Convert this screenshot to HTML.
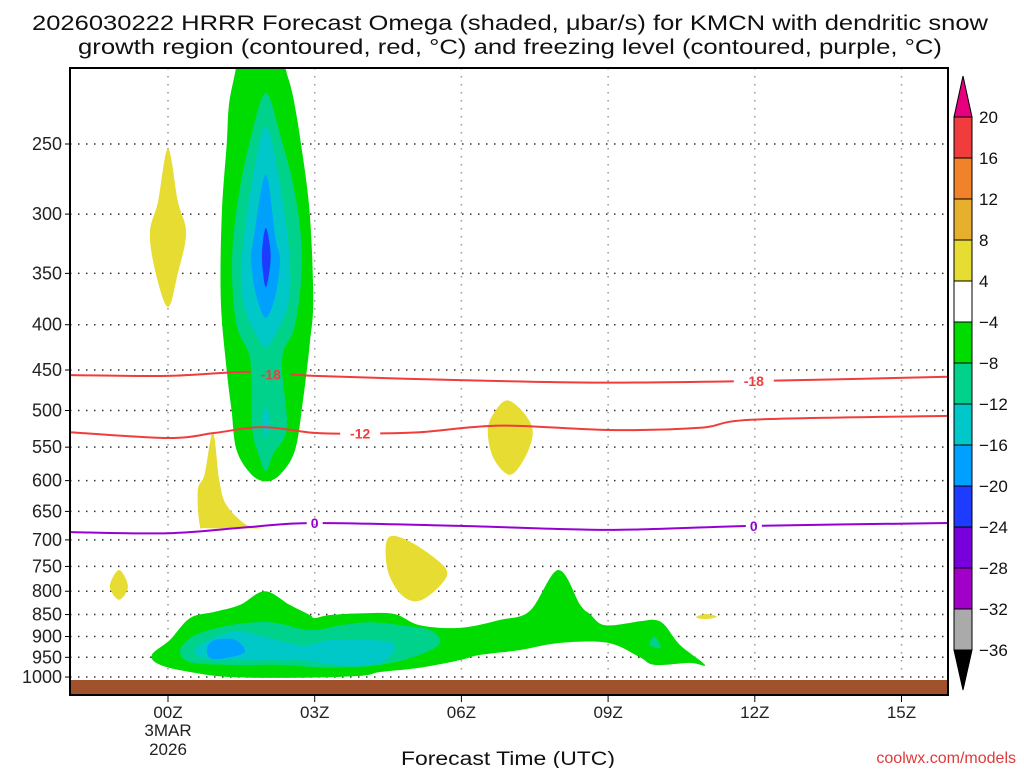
<!DOCTYPE html>
<html><head><meta charset="utf-8"><style>
body{margin:0;background:#fff;width:1024px;height:768px;overflow:hidden;font-family:"Liberation Sans",sans-serif}
svg text{font-family:"Liberation Sans",sans-serif}
</style></head><body>
<svg id="chart" width="1024" height="768" xmlns="http://www.w3.org/2000/svg">
<text x="510" y="30" font-size="21" text-anchor="middle" fill="#111" textLength="956" lengthAdjust="spacingAndGlyphs">2026030222 HRRR Forecast Omega (shaded, μbar/s) for KMCN with dendritic snow</text>
<text x="510" y="54" font-size="21" text-anchor="middle" fill="#111" textLength="864" lengthAdjust="spacingAndGlyphs">growth region (contoured, red, °C) and freezing level (contoured, purple, °C)</text>
<g id="plot"></g>
<text x="508" y="765" font-size="19" text-anchor="middle" fill="#111" textLength="214" lengthAdjust="spacingAndGlyphs">Forecast Time (UTC)</text>
<text x="1016" y="763" font-size="16" text-anchor="end" fill="#e03a3a">coolwx.com/models</text>
<g id="cbar"></g>
</svg>
<script>
const xTickHours=[0,3,6,9,12,15];
const xTickLabels=["00Z","03Z","06Z","09Z","12Z","15Z"];
const yTicks=[250,300,350,400,450,500,550,600,650,700,750,800,850,900,950,1000];
const cbLevels=[20,16,12,8,4,-4,-8,-12,-16,-20,-24,-28,-32,-36];
const cbColors=["#f03c3c","#f0822a","#e6af2d","#e6dc32","#ffffff","#00dc00","#00d28c","#00c8c8","#00a0ff","#1e3cff","#7800dc","#a000c8","#aaaaaa"];
const greenUpper=[[1.45,190],[1.39,205],[1.25,225],[1.2,250],[1.1,300],[1.08,375],[1.2,450],[1.3,500],[1.4,554],[1.7,590],[2.0,601],[2.3,590],[2.6,554],[2.76,487],[2.9,420],[2.97,375],[2.9,300],[2.72,250],[2.55,220],[2.4,205],[2.3,190]];
const tealUpper=[[2.0,219],[1.7,245],[1.45,285],[1.31,338],[1.4,400],[1.68,438],[1.72,522],[1.85,560],[2.0,585],[2.15,560],[2.43,522],[2.33,438],[2.6,400],[2.74,338],[2.6,285],[2.3,245]];
const cyanUpper=[[2.0,239],[1.7,280],[1.51,338],[1.55,380],[1.8,410],[2.0,424],[2.2,410],[2.45,380],[2.49,338],[2.3,280]];
const cyanSmall=[[2.0,495],[2.08,515],[2.0,536],[1.93,515]];
const blueUpper=[[2.0,271],[1.75,320],[1.7,338],[1.8,370],[2.0,393],[2.2,370],[2.29,338],[2.2,320]];
const dblueUpper=[[2.0,311],[1.92,335],[2.0,363],[2.1,335]];
const yellow1=[[0,253],[-0.2,290],[-0.37,315],[-0.25,350],[0,382],[0.2,350],[0.37,315],[0.2,290]];
const yellow2=[[0.92,530],[0.75,590],[0.61,615],[0.65,673],[0.8,679],[1.92,679],[1.6,673],[1.2,640],[1.05,600]];
const yellow3=[[6.95,487],[7.3,505],[7.46,530],[7.3,565],[6.99,591],[6.65,565],[6.54,525],[6.7,500]];
const yellow4=[[4.48,700],[4.8,697],[5.4,730],[5.71,767],[5.2,818],[4.8,810],[4.5,760]];
const yellow5=[[-1.0,757],[-0.82,790],[-1.0,818],[-1.19,790]];
const yellow6=[[11.0,849],[11.23,855],[11.0,860],[10.8,856]];
const greenLower=[[-0.33,944],[0.04,908],[0.45,858],[0.96,844],[1.47,829],[1.98,800],[2.49,829],[2.9,851],[3.0,858],[3.31,851],[4.03,847],[4.64,849],[5.15,874],[5.97,880],[6.79,862],[7.4,842],[7.98,757],[8.43,829],[8.63,849],[8.94,874],[9.65,865],[9.95,862],[10.16,874],[10.47,920],[10.98,969],[10.67,964],[9.95,969],[9.65,950],[9.0,915],[8.02,915],[7.2,932],[6.38,944],[5.97,957],[5.15,976],[4.34,987],[3.93,997],[2.7,1002],[1.27,1000],[0.45,987],[-0.16,969]];
const tealLower=[[0.25,932],[0.55,897],[1.27,874],[2.09,867],[2.9,885],[3.52,874],[4.13,867],[4.74,874],[5.36,885],[5.56,915],[5.15,944],[4.34,969],[3.31,976],[2.29,969],[1.27,969],[0.45,962]];
const tealSmall=[[9.95,900],[10.08,927],[9.85,920]];
const cyanLower=[[0.55,932],[0.86,908],[1.47,889],[2.7,920],[3.31,908],[4.13,908],[4.64,920],[4.34,964],[3.52,969],[2.7,957],[1.68,957],[0.76,952]];
const blueLower=[[0.8,927],[0.96,908],[1.37,908],[1.57,937],[1.17,952],[0.86,952]];
const line18=[[-2,456],[0,457],[1.68,452],[3.0,457],[5.97,462],[8.83,465],[11.98,463],[15.95,458]];
const line12=[[-2,529],[0,537],[0.96,530],[1.92,522],[3.0,530],[3.93,531],[5.15,529],[6.79,520],[9.0,526],[10.88,523],[11.98,512],[15.95,507]];
const line0=[[-2,686],[0,688],[1.68,677],[3.0,670],[5.97,675],[9.0,682],[11.98,675],[15.95,670]];
const labels18=[[2.1,455,"-18"],[11.98,463,"-18"]];
const labels12=[[3.93,531,"-12"]];
const labels0=[[3.0,670,"0"],[11.98,675,"0"]];

const NS="http://www.w3.org/2000/svg";
const L=70,R=948,T=68,B=695;
const X=h=>168+h*48.9;
const Y=p=>144+Math.log(p/250)*384.5;
const plot=document.getElementById('plot');
function mk(tag,attrs,parent){const e=document.createElementNS(NS,tag);for(const k in attrs)e.setAttribute(k,attrs[k]);(parent||plot).appendChild(e);return e;}
const defs=mk('defs',{});
const cp=mk('clipPath',{id:'clip'},defs);mk('rect',{x:L,y:T,width:R-L,height:B-T},cp);
const g=mk('g',{'clip-path':'url(#clip)'});
function smooth(pts,closed){const P=pts.map(q=>[X(q[0]),Y(q[1])]);const n=P.length;let d='M'+P[0][0].toFixed(1)+','+P[0][1].toFixed(1);
const t=0.5/3;const cnt=closed?n:n-1;
for(let i=0;i<cnt;i++){const p0=P[closed?(i-1+n)%n:Math.max(i-1,0)],p1=P[i],p2=P[(i+1)%n],p3=P[closed?(i+2)%n:Math.min(i+2,n-1)];
const c1=[p1[0]+(p2[0]-p0[0])*t,p1[1]+(p2[1]-p0[1])*t],c2=[p2[0]-(p3[0]-p1[0])*t,p2[1]-(p3[1]-p1[1])*t];
d+=`C${c1[0].toFixed(1)},${c1[1].toFixed(1)} ${c2[0].toFixed(1)},${c2[1].toFixed(1)} ${p2[0].toFixed(1)},${p2[1].toFixed(1)}`;}
return d+(closed?'Z':'');}
function poly(pts,fill,name){const e=mk('path',{d:smooth(pts,true),fill:fill},g);

}
yTicks.forEach(p=>{const l=mk('line',{x1:L,x2:R,y1:Y(p),y2:Y(p),stroke:'#333','stroke-width':1.5,'stroke-dasharray':'1.5 6.5'},g);

});
xTickHours.forEach(h=>{const l=mk('line',{x1:X(h),x2:X(h),y1:T,y2:B,stroke:'#999','stroke-width':1.5,'stroke-dasharray':'1.5 6.5'},g);

});
poly(greenUpper,'#00dc00','omega-green-upper');
poly(tealUpper,'#00d28c','omega-teal-upper');
poly(cyanUpper,'#00c8c8','omega-cyan-upper');
poly(cyanSmall,'#00c8c8','omega-cyan-small');
poly(blueUpper,'#00a0ff','omega-blue-upper');
poly(dblueUpper,'#1e3cff','omega-darkblue-upper');
[yellow1,yellow2,yellow3,yellow4,yellow5,yellow6].forEach((y,i)=>poly(y,'#e6dc32','omega-yellow-'+(i+1)));
poly(greenLower,'#00dc00','omega-green-lower');
poly(tealLower,'#00d28c','omega-teal-lower');
poly(tealSmall,'#00d28c','omega-teal-small');
poly(cyanLower,'#00c8c8','omega-cyan-lower');
poly(blueLower,'#00a0ff','omega-blue-lower');
const gr=mk('rect',{x:L,y:680,width:R-L,height:B-680,fill:'#a0522d'},g);


// mask to break lines at labels
const mask=mk('mask',{id:'lblmask',maskUnits:'userSpaceOnUse',x:0,y:0,width:1024,height:768},defs);
mk('rect',{x:0,y:0,width:1024,height:768,fill:'#fff'},mask);
function cline(pts,color,name,labs){labs.forEach(lb=>mk('rect',{x:X(lb[0])-lb[2].length*6-2,y:Y(lb[1])-8,width:lb[2].length*12+4,height:16,fill:'#000'},mask));
const e=mk('path',{d:smooth(pts,false),fill:'none',stroke:color,'stroke-width':2,mask:'url(#lblmask)'},g);


labs.forEach(lb=>{const t=mk('text',{x:X(lb[0]),y:Y(lb[1])+5,'font-size':14,'font-weight':'bold','text-anchor':'middle',fill:color},g);t.textContent=lb[2];

});}
cline(line18,'#f03c3c','contour-minus18',labels18);
cline(line12,'#f03c3c','contour-minus12',labels12);
cline(line0,'#9600d2','freezing-level-0',labels0);
const fr=mk('rect',{x:L,y:T,width:R-L,height:B-T,fill:'none',stroke:'#000','stroke-width':2});


yTicks.forEach(p=>{mk('line',{x1:L-5,x2:L,y1:Y(p),y2:Y(p),stroke:'#000'});
const t=mk('text',{x:L-8,y:Y(p)+6,'font-size':18,'text-anchor':'end',fill:'#222'});t.textContent=p;

});
xTickHours.forEach((h,i)=>{mk('line',{x1:X(h),x2:X(h),y1:B,y2:B+7,stroke:'#000'});
const t=mk('text',{x:X(h),y:718,'font-size':17,'text-anchor':'middle',fill:'#222'});t.textContent=xTickLabels[i];

});
[["3MAR",736],["2026",755]].forEach(a=>{const t=mk('text',{x:X(0),y:a[1],'font-size':17,'text-anchor':'middle',fill:'#222'});t.textContent=a[0];

});
const cb=document.getElementById('cbar');
const cx=954,cw=18,top0=117,bh=41;
const up=mk('polygon',{points:`${cx},${top0} ${cx+cw},${top0} ${cx+cw/2},76`,fill:'#e6007e',stroke:'#000'},cb);

cbColors.forEach((c,i)=>{const r=mk('rect',{x:cx,y:top0+i*bh,width:cw,height:bh,fill:c,stroke:'#000','stroke-width':1},cb);

});
const yb=top0+cbColors.length*bh;
const dn=mk('polygon',{points:`${cx},${yb} ${cx+cw},${yb} ${cx+cw/2},690`,fill:'#000',stroke:'#000'},cb);

cbLevels.forEach((v,i)=>{const t=mk('text',{x:979,y:top0+i*bh+6,'font-size':17,fill:'#111'},cb);t.textContent=(v<0?'\u2212':'')+Math.abs(v);

});
</script>
</body></html>
